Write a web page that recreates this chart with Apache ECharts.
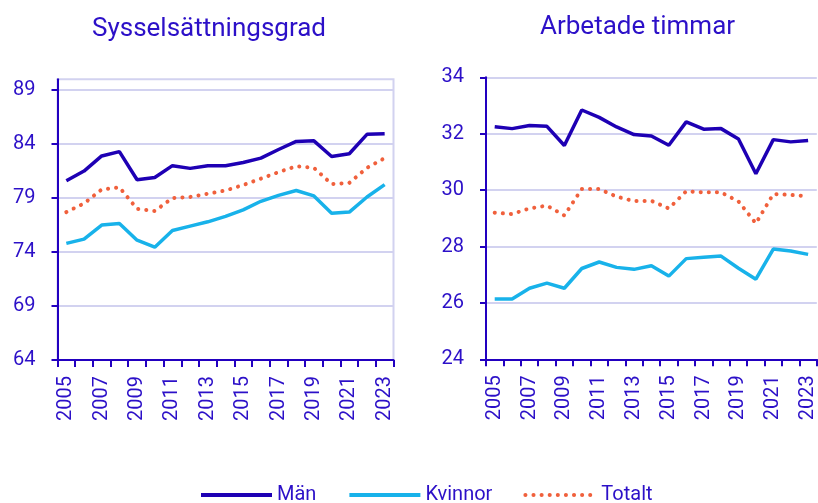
<!DOCTYPE html>
<html><head><meta charset="utf-8">
<script src="https://cdn.jsdelivr.net/npm/echarts@6/dist/echarts.min.js"></script>
<style>html,body{margin:0;padding:0;background:#fff}#c{width:818px;height:503px}</style>
</head><body><div id="c"></div>
<script>
const years = ['2005','2006','2007','2008','2009','2010','2011','2012','2013','2014','2015','2016','2017','2018','2019','2020','2021','2022','2023'];
const empMen   = [80.6,81.5,82.9,83.3,80.7,80.9,82.0,81.75,82.0,82.0,82.3,82.7,83.5,84.25,84.3,82.85,83.1,84.9,84.95];
const empWomen = [74.8,75.2,76.5,76.65,75.1,74.45,76.0,76.4,76.8,77.3,77.9,78.7,79.25,79.7,79.2,77.6,77.7,79.1,80.25];
const empTotal = [77.7,78.5,79.8,80.0,78.0,77.8,79.0,79.1,79.4,79.7,80.2,80.8,81.4,81.95,81.8,80.3,80.4,81.8,82.7];
const hrsMen   = [32.25,32.18,32.29,32.26,31.58,32.84,32.58,32.24,31.97,31.92,31.59,32.42,32.16,32.18,31.81,30.58,31.79,31.71,31.76];
const hrsWomen = [26.14,26.14,26.52,26.70,26.52,27.22,27.45,27.26,27.19,27.32,26.95,27.57,27.62,27.66,27.23,26.84,27.91,27.84,27.72];
const hrsTotal = [29.20,29.15,29.35,29.45,29.10,30.04,30.04,29.77,29.61,29.62,29.35,29.96,29.92,29.92,29.60,28.82,29.86,29.83,29.78];
const leftTicks  = [64,69,74,79,84,89];
const rightTicks = [24,26,28,30,32,34];

const C_MEN = '#1e00b4', C_WOMEN = '#18b2ea', C_TOT = '#f0603c';
const TXT = '#2c10c8', AXIS = '#2200c0', GRID = '#d2d2f0';
const FONT = 'Roboto';

function xAx(gi){
  return {
    type:'category', gridIndex:gi, data:years, boundaryGap:true,
    axisLine:{show:true, lineStyle:{color:AXIS, width:2}},
    axisTick:{show:true, interval:0, length:7, lineStyle:{color:AXIS, width:2}},
    axisLabel:{interval:1, rotate:90, margin:16, color:TXT, fontSize:20, fontFamily:FONT},
    splitLine:{show:false}
  };
}
function yAx(gi, min, max, interval, ticks){
  return {
    type:'value', gridIndex:gi, min:min, max:max, interval:interval,
    axisLine:{show:true, lineStyle:{color:AXIS, width:2}},
    axisTick:{show:true, inside:false, length:6, lineStyle:{color:AXIS, width:2}, customValues:ticks},
    axisLabel:{color:TXT, fontSize:20, fontFamily:FONT, margin:22, customValues:ticks, showMaxLabel:true, showMinLabel:true},
    splitLine:{show:true, lineStyle:{color:GRID, width:2}}
  };
}
function line(name, xi, data, color, dotted){
  return {
    name:name, type:'line', xAxisIndex:xi, yAxisIndex:xi, data:data,
    symbol:'none', smooth:false,
    lineStyle: dotted ? {color:color, width:4, type:[0.1,8], cap:'round'} : {color:color, width:3.5},
    itemStyle:{color:color}, emphasis:{disabled:true}, animation:false
  };
}

const chart = echarts.init(document.getElementById('c'), null, {renderer:'canvas'});
chart.setOption({
  animation:false,
  textStyle:{fontFamily:FONT},
  title:[
    {text:'Sysselsättningsgrad', left:92, top:16, padding:0, textStyle:{color:TXT, fontSize:26, fontWeight:'normal', fontFamily:FONT}},
    {text:'Arbetade timmar', left:540, top:14, padding:0, textStyle:{color:TXT, fontSize:26, fontWeight:'normal', fontFamily:FONT}}
  ],
  legend:{
    left:199, top:485, padding:0, itemWidth:71, itemHeight:14, itemGap:31,
    itemStyle:{opacity:0, borderWidth:0},
    lineStyle:{width:4},
    textStyle:{color:TXT, fontSize:20, fontFamily:FONT},
    data:['Män','Kvinnor','Totalt']
  },
  grid:[
    {left:57.5, top:79.3, width:336, height:280.7, show:true, borderColor:GRID, borderWidth:2, containLabel:false},
    {left:486, top:77.3, width:335, height:282, show:false, containLabel:false}
  ],
  xAxis:[xAx(0), xAx(1)],
  yAxis:[yAx(0,64,90,5,leftTicks), yAx(1,24,34,2,rightTicks)],
  series:[
    line('Män',0,empMen,C_MEN,false),
    line('Kvinnor',0,empWomen,C_WOMEN,false),
    line('Totalt',0,empTotal,C_TOT,true),
    line('Män',1,hrsMen,C_MEN,false),
    line('Kvinnor',1,hrsWomen,C_WOMEN,false),
    line('Totalt',1,hrsTotal,C_TOT,true)
  ]
});
</script></body></html>
